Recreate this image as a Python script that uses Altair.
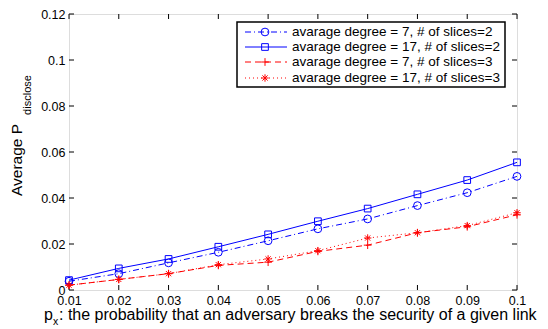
import altair as alt
import pandas as pd

px = [0.01, 0.02, 0.03, 0.04, 0.05, 0.06, 0.07, 0.08, 0.09, 0.1]
deg7_s2 = [0.0038, 0.0071, 0.0118, 0.0164, 0.0214, 0.0266, 0.0309, 0.0367, 0.0423, 0.0494]
deg17_s2 = [0.0043, 0.0094, 0.0135, 0.0188, 0.0242, 0.0299, 0.0354, 0.0416, 0.0478, 0.0555]
deg7_s3 = [0.0021, 0.0046, 0.0071, 0.0107, 0.0121, 0.0168, 0.0195, 0.0249, 0.0275, 0.0327]
deg17_s3 = [0.0021, 0.0046, 0.0071, 0.0110, 0.0135, 0.0171, 0.0226, 0.0249, 0.0280, 0.0336]

labels = [
    "avarage degree = 7, # of slices=2",
    "avarage degree = 17, # of slices=2",
    "avarage degree = 7, # of slices=3",
    "avarage degree = 17, # of slices=3",
]
series_values = [deg7_s2, deg17_s2, deg7_s3, deg17_s3]
colors = ["#0000ff", "#0000ff", "#ff0000", "#ff0000"]
dashes = [[6, 3, 1, 3], None, [6, 4], [1, 3]]
PLUS = "M-1,0L1,0M0,-1L0,1"
STAR = "M-1,0L1,0M0,-1L0,1M-0.7,-0.7L0.7,0.7M-0.7,0.7L0.7,-0.7"
shapes = ["circle", "square", PLUS, STAR]
sizes = [60, 45, 60, 55]

x_ticks = px
y_ticks = [0, 0.02, 0.04, 0.06, 0.08, 0.1, 0.12]

TOP = 6
OY = 8 + TOP          # page y of plot top
W, H = 448, 290 - OY
FONT = "Liberation Sans"

xs = alt.Scale(domain=[0.01, 0.1], nice=False, zero=False)
ys = alt.Scale(domain=[0, 0.12], nice=False)

LBL = "format(datum.value, '.2~f')"

layers = []

base_axes = alt.Chart(pd.DataFrame({"x": [0.01], "y": [0]})).mark_point(opacity=0).encode(
    x=alt.X("x:Q", scale=xs, axis=alt.Axis(values=x_ticks, labelExpr=LBL, title=None, ticks=False,
                                          domain=False, grid=False, labelFont=FONT, labelFontSize=12.5,
                                          labelColor="black", labelPadding=4, labelFlush=False,
                                          labelOverlap=False)),
    y=alt.Y("y:Q", scale=ys, axis=alt.Axis(values=y_ticks, labelExpr=LBL, title=None, ticks=False,
                                          domain=False, grid=False, labelFont=FONT, labelFontSize=12.5,
                                          labelColor="black", labelPadding=4, labelFlush=False,
                                          labelOverlap=False)),
)
layers.append(base_axes)

xt = pd.DataFrame({"x": x_ticks})
yt = pd.DataFrame({"y": y_ticks})
layers.append(alt.Chart(xt).mark_rule(color="black", strokeWidth=1).encode(
    x=alt.X("x:Q", scale=xs), y=alt.value(H), y2=alt.value(H - 5)))
layers.append(alt.Chart(xt).mark_rule(color="black", strokeWidth=1).encode(
    x=alt.X("x:Q", scale=xs), y=alt.value(0), y2=alt.value(5)))
layers.append(alt.Chart(yt).mark_rule(color="black", strokeWidth=1).encode(
    y=alt.Y("y:Q", scale=ys), x=alt.value(0), x2=alt.value(5)))
layers.append(alt.Chart(yt).mark_rule(color="black", strokeWidth=1).encode(
    y=alt.Y("y:Q", scale=ys), x=alt.value(W), x2=alt.value(W - 5)))

for i in range(4):
    df = pd.DataFrame({"x": px, "y": series_values[i]})
    line_kw = dict(color=colors[i], strokeWidth=1)
    if dashes[i] is not None:
        line_kw["strokeDash"] = dashes[i]
    layers.append(alt.Chart(df).mark_line(**line_kw).encode(
        x=alt.X("x:Q", scale=xs), y=alt.Y("y:Q", scale=ys)))
    layers.append(alt.Chart(df).mark_point(shape=shapes[i], filled=False, color=colors[i],
                                           size=sizes[i], strokeWidth=1, opacity=1).encode(
        x=alt.X("x:Q", scale=xs), y=alt.Y("y:Q", scale=ys)))

# legend (page coords -> plot coords: x-69, y-OY)
LX0, LX1, LY0, LY1 = 168, 436, 22 - OY, 87 - OY
layers.append(alt.Chart(pd.DataFrame({"a": [0]})).mark_rect(fill="white", stroke="black", strokeWidth=1.5).encode(
    x=alt.value(LX0), x2=alt.value(LX1), y=alt.value(LY0), y2=alt.value(LY1)))
row_y = [32 - OY, 47 - OY, 62 - OY, 78 - OY]
for i in range(4):
    d = pd.DataFrame({"label": [labels[i]]})
    line_kw = dict(color=colors[i], strokeWidth=1)
    if dashes[i] is not None:
        line_kw["strokeDash"] = dashes[i]
    layers.append(alt.Chart(d).mark_rule(**line_kw).encode(
        x=alt.value(176), x2=alt.value(218), y=alt.value(row_y[i])))
    layers.append(alt.Chart(d).mark_point(shape=shapes[i], filled=False, color=colors[i],
                                          size=sizes[i], strokeWidth=1, opacity=1).encode(
        x=alt.value(196), y=alt.value(row_y[i])))
    layers.append(alt.Chart(d).mark_text(align="left", baseline="middle", font=FONT, fontSize=13.5,
                                         color="black").encode(
        x=alt.value(223), y=alt.value(row_y[i]), text="label:N"))

t = pd.DataFrame({"a": [0]})
layers.append(alt.Chart(t).mark_text(angle=270, align="center", baseline="middle", font=FONT,
                                     fontSize=15.5, color="black", text="Average P").encode(
    x=alt.value(-52), y=alt.value(160 - OY)))
layers.append(alt.Chart(t).mark_text(angle=270, align="center", baseline="middle", font=FONT,
                                     fontSize=11, color="black", text="disclose").encode(
    x=alt.value(-41), y=alt.value(95 - OY)))
layers.append(alt.Chart(t).mark_text(align="left", baseline="alphabetic", font=FONT,
                                     fontSize=16, color="black", text="p").encode(
    x=alt.value(44 - 69), y=alt.value(320 - OY)))
layers.append(alt.Chart(t).mark_text(align="left", baseline="alphabetic", font=FONT,
                                     fontSize=10.5, color="black", text="x").encode(
    x=alt.value(53 - 69), y=alt.value(325 - OY)))
layers.append(alt.Chart(t).mark_text(align="left", baseline="alphabetic", font=FONT,
                                     fontSize=16, color="black",
                                     text=": the probability that an adversary breaks the security of a given link").encode(
    x=alt.value(59 - 69), y=alt.value(320 - OY)))

chart = alt.layer(*layers).properties(
    width=W, height=H,
    padding={"left": 61, "top": TOP, "right": 22, "bottom": 37},
    autosize=alt.AutoSizeParams(type="none"),
).configure_view(stroke="black", strokeWidth=1.2).configure(background="white")

chart.save("out.html", embed_options={"renderer": "svg", "actions": False})
